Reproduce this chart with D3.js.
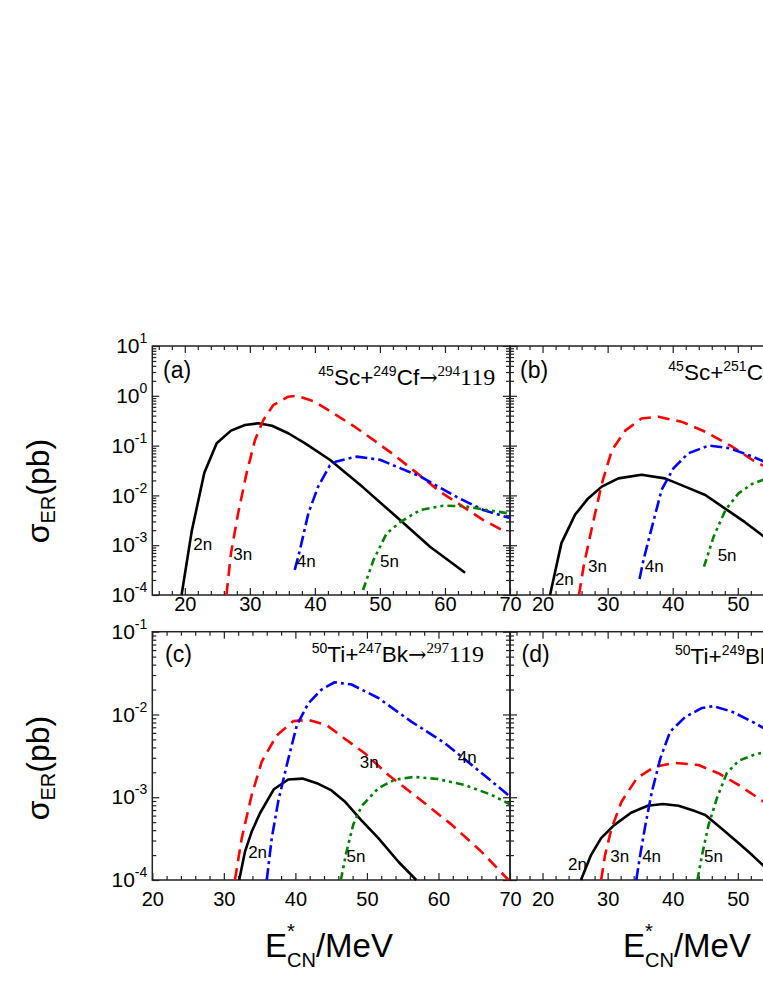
<!DOCTYPE html>
<html><head><meta charset="utf-8">
<script src="https://cdn.jsdelivr.net/npm/d3@7"></script>
<style>body{margin:0;background:#fff}svg{display:block}</style>
</head><body>
<script>
// ---------- data (E*_CN in MeV, sigma_ER in pb) ----------
const channels = ["2n", "3n", "4n", "5n"];

const a2n = [[19.5,1e-4],[21.06,1.9e-3],[23.0,0.0286],[24.9,0.111],[27.1,0.2],[29.25,0.26],[31.3,0.28],[33.4,0.25],[35.9,0.177],[38.5,0.111],[42.3,0.052],[47.4,0.0145],[53.1,3.2e-3],[57.7,9.3e-4],[63.1,2.8e-4]];
const a3n = [[26.4,1e-4],[27.1,6.9e-4],[28.2,4.4e-3],[29.5,0.028],[30.8,0.13],[32.1,0.33],[33.6,0.65],[35.9,0.96],[37.2,1.0],[40.0,0.76],[42.8,0.45],[45.9,0.25],[49.0,0.13],[52.1,0.066],[55.7,0.028],[59.2,0.012],[62.8,5.9e-3],[65.9,3.2e-3],[69.5,1.8e-3]];
const a4n = [[36.9,3.2e-4],[37.7,8e-4],[39.0,4.4e-3],[40.5,0.015],[42.3,0.040],[43.3,0.048],[46.4,0.060],[50.0,0.052],[56.2,0.024],[61.8,9.3e-3],[65.9,5.1e-3],[70,3.5e-3]];
const a5n = [[47.4,1.26e-4],[49.0,5e-4],[51.0,1.7e-3],[53.1,2.9e-3],[56.2,5.1e-3],[59.7,6.2e-3],[62.8,6.1e-3],[66.4,5.1e-3],[69.5,4.4e-3]];

const b2n = [[21.15,1e-4],[22.9,1.1e-3],[25.0,4.1e-3],[27.0,8.7e-3],[29.1,0.015],[31.65,0.022],[35.2,0.026],[38.8,0.022],[41.9,0.015],[45.0,0.0102],[48.0,5.5e-3],[51.1,2.9e-3],[53.7,1.6e-3],[54.5,1.35e-3]];
const b3n = [[25.6,1e-4],[26.3,3.7e-4],[27.6,2.3e-3],[29.1,0.017],[30.65,0.081],[32.7,0.2],[35.2,0.35],[37.8,0.38],[41.4,0.30],[45.0,0.19],[49.1,0.096],[52.2,0.052],[54.5,0.036]];
const b4n = [[34.9,2.1e-4],[35.5,5e-4],[36.8,2.3e-3],[38.3,0.013],[40.1,0.035],[42.4,0.070],[45.5,0.1],[48.6,0.089],[51.6,0.065],[54.5,0.045]];
const b5n = [[44.8,3.7e-4],[46.3,1.5e-3],[48.1,5.1e-3],[50.1,0.011],[52.2,0.017],[54.5,0.022]];

const c2n = [[32.15,1e-4],[32.95,2.2e-4],[33.9,3.85e-4],[35.05,6.4e-4],[37.0,1.25e-3],[39.0,1.64e-3],[41.0,1.68e-3],[43.0,1.48e-3],[45.05,1.21e-3],[46.9,8.9e-4],[49.2,5.3e-4],[51.6,3.2e-4],[54.4,1.66e-4],[56.9,1e-4]];
const c3n = [[31.55,1e-4],[32.5,3.2e-4],[33.9,1.07e-3],[35.3,2.7e-3],[37.4,5.6e-3],[39.7,8.3e-3],[41.8,8.6e-3],[44.4,7.4e-3],[46.9,5.1e-3],[49.7,3.4e-3],[53.0,1.86e-3],[57.15,9.8e-4],[61.8,4.7e-4],[66.0,2.2e-4],[69.8,1.0e-4]];
const c4n = [[36.0,1e-4],[36.7,3.2e-4],[37.6,8.9e-4],[38.8,2.45e-3],[40.2,7.4e-3],[41.8,0.0136],[43.65,0.020],[45.5,0.0245],[47.85,0.023],[51.6,0.0158],[56.2,8.2e-3],[60.9,4.5e-3],[65.5,2.14e-3],[70,1.02e-3]];
const c5n = [[46.35,1e-4],[47.15,2.2e-4],[48.1,4.7e-4],[49.25,7.8e-4],[51.6,1.29e-3],[53.9,1.63e-3],[56.6,1.76e-3],[59.95,1.66e-3],[63.7,1.4e-3],[67.4,1.07e-3],[70,8.2e-4]];

const d2n = [[25.9,1e-4],[27.45,2.0e-4],[29.0,3.2e-4],[31.0,4.6e-4],[33.6,6.5e-4],[36.15,7.9e-4],[38.5,8.3e-4],[40.9,7.9e-4],[43.4,6.8e-4],[45.0,6.1e-4],[47.5,4.2e-4],[50.1,2.8e-4],[52.2,2.0e-4],[54.5,1.35e-4]];
const d3n = [[29.0,1e-4],[29.6,2.0e-4],[30.6,4.2e-4],[32.15,8.9e-4],[34.5,1.7e-3],[37.3,2.35e-3],[40.4,2.6e-3],[43.96,2.45e-3],[47.0,1.95e-3],[50.1,1.41e-3],[54.5,8.3e-4]];
const d4n = [[34.4,1e-4],[35.0,2.0e-4],[35.8,4.6e-4],[36.8,1.17e-3],[38.1,2.95e-3],[39.6,6.2e-3],[41.9,9.3e-3],[44.5,0.012],[46.3,0.0126],[49.1,0.0108],[52.2,8.2e-3],[54.5,6.5e-3]];
const d5n = [[43.8,1e-4],[44.5,2.0e-4],[45.5,4.6e-4],[46.8,9.8e-4],[48.3,1.95e-3],[50.1,2.75e-3],[52.2,3.2e-3],[54.5,3.6e-3]];

// channel label anchors (E, sigma)
const aLabels = [[21.3,8.0e-4],[27.45,5.0e-4],[37.2,3.7e-4],[50.0,3.7e-4]];
const bLabels = [[21.9,1.6e-4],[27.0,2.9e-4],[35.7,2.9e-4],[46.9,4.9e-4]];
const cLabels = [[33.4,1.83e-4],[49.0,2.24e-3],[62.7,2.6e-3],[47.15,1.64e-4]];
const dLabels = [[23.9,1.32e-4],[30.4,1.66e-4],[35.3,1.66e-4],[44.8,1.66e-4]];

// tick values
const xMajorTicks = [20, 30, 40, 50, 60, 70];
const yDecadesTop = [1e-4, 1e-3, 1e-2, 1e-1, 1, 10];
const yDecadesBottom = [1e-4, 1e-3, 1e-2, 1e-1];

// reaction titles: [text, kind]
const titleA = [["45","sup"],["Sc+","main"],["249","sup"],["Cf","main"],["\u2192","arrow"],["294","serifSup"],["119","serif"]];
const titleB = [["45","sup"],["Sc+","main"],["251","sup"],["Cf","main"],["\u2192","arrow"],["296","serifSup"],["119","serif"]];
const titleC = [["50","sup"],["Ti+","main"],["247","sup"],["Bk","main"],["\u2192","arrow"],["297","serifSup"],["119","serif"]];
const titleD = [["50","sup"],["Ti+","main"],["249","sup"],["Bk","main"],["\u2192","arrow"],["299","serifSup"],["119","serif"]];

// ---------- styles / layout ----------
const SANS = "Liberation Sans, Arial, Helvetica, sans-serif";
const SERIF = "Liberation Serif, Times New Roman, serif";
const ARROWFONT = "DejaVu Serif, Liberation Serif, serif";
const lineStyles = {
  "2n": {color:"#000000", dash:null, width:2.6},
  "3n": {color:"#ff0000", dash:"12,7", width:2.6},
  "4n": {color:"#0000ff", dash:"12,4,3,4", width:2.6},
  "5n": {color:"#008000", dash:"8,4,3,4,3,4", width:2.6}
};
const titleFont = {
  main:   {family:SANS, size:22.5, sup:false},
  sup:    {family:SANS, size:14, sup:true},
  arrow:  {family:ARROWFONT, size:22, sup:false},
  serifSup:{family:SERIF, size:15, sup:true},
  serif:  {family:SERIF, size:24, sup:false}
};

const panels = [
  {left:152.3, right:510, top:346, bottom:595, xDomain:[15,70], yDomain:[1e-4,10], decades:yDecadesTop,
   series:[a2n,a3n,a4n,a5n], labels:aLabels, title:titleA, letter:"(a)",
   titleXY:[318.3,385], letterXY:[163,378], xPad:2, yLabels:true},
  {left:510, right:868, top:346, bottom:595, xDomain:[15,70], yDomain:[1e-4,10], decades:yDecadesTop,
   series:[b2n,b3n,b4n,b5n], labels:bLabels, title:titleB, letter:"(b)",
   titleXY:[668.3,380], letterXY:[520,378], xPad:2, yLabels:false},
  {left:152.3, right:510, top:631.7, bottom:880, xDomain:[20,70], yDomain:[1e-4,0.1], decades:yDecadesBottom,
   series:[c2n,c3n,c4n,c5n], labels:cLabels, title:titleC, letter:"(c)",
   titleXY:[311.7,662], letterXY:[165,662], xPad:12, yLabels:true},
  {left:510, right:868, top:631.7, bottom:880, xDomain:[15,70], yDomain:[1e-4,0.1], decades:yDecadesBottom,
   series:[d2n,d3n,d4n,d5n], labels:dLabels, title:titleD, letter:"(d)",
   titleXY:[675,664], letterXY:[521.5,662], xPad:12, yLabels:false}
];

const svg = d3.select("body").append("svg").attr("width", 763).attr("height", 987);
svg.append("rect").attr("width", 763).attr("height", 987).attr("fill", "#fff");

function styleAxis(g) {
  g.select(".domain").remove();
  g.attr("font-family", SANS).attr("font-size", null);
  g.selectAll(".tick line").attr("stroke", "#222").attr("stroke-width", 1.2);
  g.selectAll(".tick text").attr("fill", "#000");
}

panels.forEach(p => {
  const x = d3.scaleLinear().domain(p.xDomain).range([p.left, p.right]);
  const y = d3.scaleLog().domain(p.yDomain).range([p.bottom, p.top]);
  const g = svg.append("g");

  const xMinor = d3.range(Math.ceil(p.xDomain[0] / 2) * 2, p.xDomain[1], 2)
    .filter(v => v % 10 !== 0 && v > p.xDomain[0] && v < p.xDomain[1]);
  const xMajor = xMajorTicks.filter(v => v >= p.xDomain[0] && v <= p.xDomain[1]);
  const yMinor = [];
  p.decades.forEach(d => { for (let k = 2; k <= 9; k++) { if (d * k < p.yDomain[1]) yMinor.push(d * k); } });

  // bottom axis
  g.append("g").attr("transform", `translate(0,${p.bottom})`)
    .call(d3.axisBottom(x).tickValues(xMajor).tickSizeInner(-7).tickSizeOuter(0).tickPadding(p.xPad).tickFormat(d3.format("d")))
    .call(styleAxis)
    .call(a => a.selectAll(".tick text").attr("font-size", 20));
  g.append("g").attr("transform", `translate(0,${p.bottom})`)
    .call(d3.axisBottom(x).tickValues(xMinor).tickSizeInner(-4).tickSizeOuter(0).tickFormat(""))
    .call(styleAxis);
  // top axis
  g.append("g").attr("transform", `translate(0,${p.top})`)
    .call(d3.axisTop(x).tickValues(xMajor).tickSizeInner(-7).tickSizeOuter(0).tickFormat(""))
    .call(styleAxis);
  g.append("g").attr("transform", `translate(0,${p.top})`)
    .call(d3.axisTop(x).tickValues(xMinor).tickSizeInner(-4).tickSizeOuter(0).tickFormat(""))
    .call(styleAxis);
  // left axis
  const left = g.append("g").attr("transform", `translate(${p.left},0)`)
    .call(d3.axisLeft(y).tickValues(p.decades).tickSizeInner(-7).tickSizeOuter(0).tickPadding(5)
      .tickFormat(p.yLabels ? (d => "10") : ""))
    .call(styleAxis);
  if (p.yLabels) {
    left.selectAll(".tick text").attr("font-size", 21).each(function(d) {
      const e = Math.round(Math.log10(d));
      const t = d3.select(this).text(null);
      t.append("tspan").text("10");
      t.append("tspan").attr("font-size", 14).attr("dy", -10).text(String(e));
    });
  }
  g.append("g").attr("transform", `translate(${p.left},0)`)
    .call(d3.axisLeft(y).tickValues(yMinor).tickSizeInner(-4).tickSizeOuter(0).tickFormat(""))
    .call(styleAxis);
  // right axis
  g.append("g").attr("transform", `translate(${p.right},0)`)
    .call(d3.axisRight(y).tickValues(p.decades).tickSizeInner(-7).tickSizeOuter(0).tickFormat(""))
    .call(styleAxis);
  g.append("g").attr("transform", `translate(${p.right},0)`)
    .call(d3.axisRight(y).tickValues(yMinor).tickSizeInner(-4).tickSizeOuter(0).tickFormat(""))
    .call(styleAxis);

  // frame
  g.append("rect").attr("x", p.left).attr("y", p.top)
    .attr("width", p.right - p.left).attr("height", p.bottom - p.top)
    .attr("fill", "none").attr("stroke", "#222").attr("stroke-width", 1.5);

  // curves
  const line = d3.line().x(d => x(d[0])).y(d => y(d[1]));
  p.series.forEach((s, i) => {
    const st = lineStyles[channels[i]];
    g.append("path").datum(s).attr("d", line)
      .attr("fill", "none").attr("stroke", st.color).attr("stroke-width", st.width)
      .attr("stroke-linejoin", "round")
      .attr("stroke-dasharray", st.dash);
  });

  // channel labels
  p.labels.forEach((lp, i) => {
    g.append("text").attr("x", x(lp[0])).attr("y", y(lp[1]))
      .attr("font-family", SANS).attr("font-size", 17).attr("fill", "#000")
      .text(channels[i]);
  });

  // panel letter
  g.append("text").attr("x", p.letterXY[0]).attr("y", p.letterXY[1])
    .attr("font-family", SANS).attr("font-size", 23).attr("fill", "#000").text(p.letter);

  // reaction title
  const tt = g.append("text").attr("x", p.titleXY[0]).attr("y", p.titleXY[1]).attr("fill", "#000");
  let cur = 0;
  p.title.forEach(([txt, kind]) => {
    const f = titleFont[kind];
    const target = f.sup ? -9 : 0;
    tt.append("tspan").attr("dy", target - cur)
      .attr("font-family", f.family)
      .attr("font-size", f.size)
      .text(txt);
    cur = target;
  });
});

// axis titles
function yTitle(cy) {
  const t = svg.append("text").attr("transform", `translate(49,${cy}) rotate(-90)`)
    .attr("text-anchor", "middle").attr("font-family", SANS).attr("font-size", 32).attr("fill", "#000");
  t.append("tspan").text("\u03c3");
  t.append("tspan").attr("font-size", 20).attr("dy", 6).text("ER");
  t.append("tspan").attr("dy", -6).text("(pb)");
}
yTitle(491);
yTitle(768);

function xTitle(x0) {
  const t = svg.append("text").attr("x", x0).attr("y", 957)
    .attr("font-family", SANS).attr("font-size", 33).attr("fill", "#000");
  t.append("tspan").text("E");
  t.append("tspan").attr("font-size", 20).attr("dy", -19).text("*");
  t.append("tspan").attr("font-size", 20).attr("dx", -7.8).attr("dy", 29).text("CN");
  t.append("tspan").attr("dy", -10).text("/MeV");
}
xTitle(265);
xTitle(623);
</script>
</body></html>
